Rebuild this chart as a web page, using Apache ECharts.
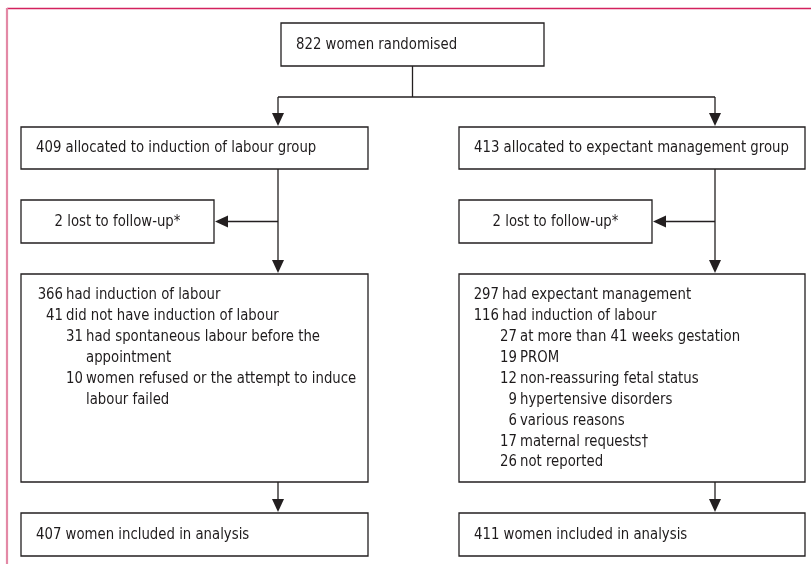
<!DOCTYPE html>
<html>
<head>
<meta charset="utf-8">
<script src="https://cdn.jsdelivr.net/npm/echarts@6/dist/echarts.min.js"></script>
<style>
  html, body { margin: 0; padding: 0; background: #fff; }
  #chart { width: 811px; height: 564px; }
</style>
</head>
<body>
<div id="chart"></div>
<script>
// box texts
const topText = '822 women randomised'
const allocTexts = ['409 allocated to induction of labour group', '413 allocated to expectant management group']
const lostTexts = ['2 lost to follow-up*', '2 lost to follow-up*']
const analysisTexts = ['407 women included in analysis', '411 women included in analysis']

// detail lines: [level, number, text]
const inductionLines = [
  [0, '366', 'had induction of labour'],
  [0, '41', 'did not have induction of labour'],
  [1, '31', 'had spontaneous labour before the'],
  [1, '', 'appointment'],
  [1, '10', 'women refused or the attempt to induce'],
  [1, '', 'labour failed']
]
const expectantLines = [
  [0, '297', 'had expectant management'],
  [0, '116', 'had induction of labour'],
  [1, '27', 'at more than 41 weeks gestation'],
  [1, '19', 'PROM'],
  [1, '12', 'non-reassuring fetal status'],
  [1, '9', 'hypertensive disorders'],
  [1, '6', 'various reasons'],
  [1, '17', 'maternal requests\u2020'],
  [1, '26', 'not reported']
]

// layout
const FONT = '"Liberation Sans Narrow", "Arial Narrow", "DejaVu Sans Condensed", sans-serif'
const FS = 16.5
const SQUEEZE = 0.895   // narrow look of the original type
const TXT = '#1e1b1c'
const LINE = '#231f20'
const cols = [
  { x: 21, w: 347, stem: 278, lostW: 193, indent: [45, 65] },
  { x: 459, w: 346, stem: 715, lostW: 193, indent: [43, 61] }
]
const topBox = { x: 281, y: 23, w: 263, h: 43 }
const rowAlloc = { y: 127, h: 42 }
const rowLost = { y: 200, h: 43 }
const rowDetail = { y: 274, h: 208 }
const rowAnalysis = { y: 513, h: 43 }
const lineGap = 20.9

const els = []

const box = (x, y, w, h) => els.push({
  type: 'rect',
  shape: { x: x, y: y, width: w, height: h },
  style: { fill: '#fff', stroke: LINE, lineWidth: 1.3 }
})
const label = (x, y, text, align) => els.push({
  type: 'text',
  x: x, y: y,
  scaleX: SQUEEZE,
  style: {
    text: text, fill: TXT, font: FS + 'px ' + FONT,
    textAlign: align || 'left', textVerticalAlign: 'middle'
  }
})
const line = (pts, stroke, width) => els.push({
  type: 'polyline',
  shape: { points: pts },
  style: { stroke: stroke || LINE, lineWidth: width || 1.3, fill: null }
})
const arrowDown = (x, yTip) => els.push({
  type: 'polygon',
  shape: { points: [[x - 6, yTip - 13], [x + 6, yTip - 13], [x, yTip]] },
  style: { fill: LINE }
})
const arrowLeft = (xTip, y) => els.push({
  type: 'polygon',
  shape: { points: [[xTip + 13, y - 6], [xTip + 13, y + 6], [xTip, y]] },
  style: { fill: LINE }
})

// frame
line([[7, 8.5], [811, 8.5]], '#d3225e', 1.6)
line([[7, 8], [7, 564]], '#e389a6', 2.2)

// top
box(topBox.x, topBox.y, topBox.w, topBox.h)
label(topBox.x + 15, topBox.y + topBox.h / 2, topText)
const splitY = 97
line([[topBox.x + topBox.w / 2, topBox.y + topBox.h], [topBox.x + topBox.w / 2, splitY]])
line([[cols[0].stem, splitY], [cols[1].stem, splitY]])

const details = [inductionLines, expectantLines]
cols.forEach((c, i) => {
  line([[c.stem, splitY], [c.stem, rowAlloc.y - 4]])
  arrowDown(c.stem, rowAlloc.y - 1)

  box(c.x, rowAlloc.y, c.w, rowAlloc.h)
  label(c.x + 15, rowAlloc.y + rowAlloc.h / 2, allocTexts[i])

  const lostMid = rowLost.y + rowLost.h / 2
  line([[c.stem, rowAlloc.y + rowAlloc.h], [c.stem, rowDetail.y - 4]])
  arrowDown(c.stem, rowDetail.y - 1)
  line([[c.stem, lostMid], [c.x + c.lostW + 6, lostMid]])
  arrowLeft(c.x + c.lostW + 1, lostMid)

  box(c.x, rowLost.y, c.lostW, rowLost.h)
  label(c.x + c.lostW / 2, lostMid, lostTexts[i], 'center')

  box(c.x, rowDetail.y, c.w, rowDetail.h)
  details[i].forEach((d, k) => {
    const y = rowDetail.y + 21 + k * lineGap
    const tx = c.x + c.indent[d[0]]
    if (d[1]) label(tx - 3, y, d[1], 'right')
    label(tx, y, d[2])
  })

  line([[c.stem, rowDetail.y + rowDetail.h], [c.stem, rowAnalysis.y - 4]])
  arrowDown(c.stem, rowAnalysis.y - 1)

  box(c.x, rowAnalysis.y, c.w, rowAnalysis.h)
  label(c.x + 15, rowAnalysis.y + rowAnalysis.h / 2, analysisTexts[i])
})

const chart = echarts.init(document.getElementById('chart'), null, { renderer: 'canvas' })
chart.setOption({
  animation: false,
  backgroundColor: '#fff',
  graphic: { elements: els }
})
</script>
</body>
</html>
